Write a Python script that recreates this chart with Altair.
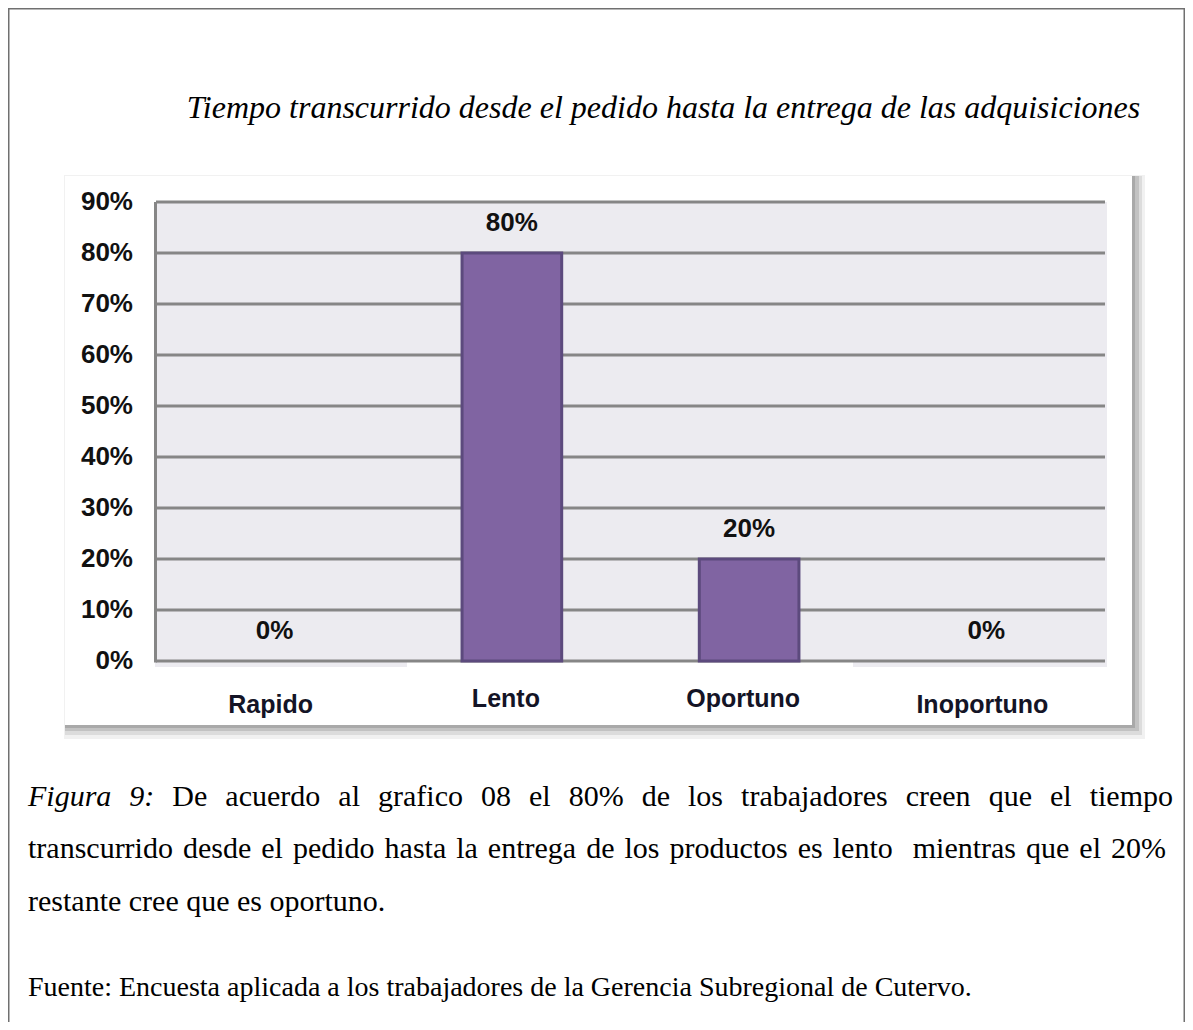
import altair as alt
import pandas as pd

# ---------------- data ----------------
categories = ["Rapido", "Lento", "Oportuno", "Inoportuno"]
values = [0.0, 0.80, 0.20, 0.0]
y_ticks = [0.0, 0.1, 0.2, 0.3, 0.4, 0.5, 0.6, 0.7, 0.8, 0.9]
title_text = "Tiempo transcurrido desde el pedido hasta la entrega de las adquisiciones"
caption_lead = ["Figura", "9:"]
caption_lines = [
    "De acuerdo al grafico 08 el 80% de los trabajadores creen que el tiempo",
    "transcurrido desde el pedido hasta la entrega de los productos es lento  mientras que el 20%",
    "restante cree que es oportuno.",
]
source_text = "Fuente: Encuesta aplicada a los trabajadores de la Gerencia Subregional de Cutervo."

# ---------------- layout ----------------
CW, CH = 1177, 1014        # whole canvas (fits the 1193x1030 window with 8px margins)
OX, OY = 156, 202          # page position of plot origin
W, H = 949, 459            # plot area
PAD = {"left": OX - 8, "top": OY - 8, "right": CW - (OX - 8) - W, "bottom": CH - (OY - 8) - H}


def rx(px):
    return px - OX


def ry(py):
    return py - OY


SERIF = "Liberation Serif"
SANS = "Liberation Sans"
CAP_FS = 30

REG = {" ": .25, "a": .444, "b": .5, "c": .444, "d": .5, "e": .444, "f": .333, "g": .5, "h": .5,
       "i": .278, "j": .278, "k": .5, "l": .278, "m": .778, "n": .5, "o": .5, "p": .5, "q": .5,
       "r": .333, "s": .389, "t": .278, "u": .5, "v": .5, "w": .722, "x": .5, "y": .5, "z": .444,
       "%": .833, ":": .278, ".": .25, ",": .25, "D": .722, "F": .556, "E": .611, "G": .722,
       "S": .556, "C": .667}
ITA = {" ": .25, "F": .611, "i": .278, "g": .5, "u": .5, "r": .389, "a": .5, ":": .333}


def tw(word, italic):
    table = ITA if italic else REG
    return sum(table.get(ch, .5) for ch in word) * CAP_FS


def justify(tokens, left, right, base):
    total = sum(tw(t, it) for t, it in tokens)
    gap = (right - left - total) / (len(tokens) - 1)
    out, x = [], left
    for t, it in tokens:
        if t:
            out.append({"word": t, "x": rx(x), "y": ry(base), "italic": it})
        x += tw(t, it) + gap
    return out


line1 = [(w, True) for w in caption_lead] + [(w, False) for w in caption_lines[0].split(" ")]
line2 = [(w, False) for w in caption_lines[1].split(" ")]
words = justify(line1, 28, 1173, 806) + justify(line2, 28, 1166, 858)
words_df = pd.DataFrame(words)
ital_df = words_df[words_df["italic"]]
norm_df = words_df[~words_df["italic"]]

df = pd.DataFrame({
    "cat": categories,
    "value": values,
    "label": [f"{round(v * 100)}%" for v in values],
})
grid_df = pd.DataFrame({"t": y_ticks})
one = pd.DataFrame({"k": [0]})

x_enc = alt.X("cat:N", sort=categories,
              scale=alt.Scale(paddingInner=0.58, paddingOuter=0.29), axis=None)
y_scale = alt.Scale(domain=[0, 0.9], nice=False, zero=True)


def box(x1, y1, x2, y2, **kw):
    return alt.Chart(one).mark_rect(**kw).encode(
        x=alt.value(rx(x1)), x2=alt.value(rx(x2)),
        y=alt.value(ry(y1)), y2=alt.value(ry(y2)))


shadow1 = box(64, 175, 1145, 739, fill="#f1f1f1")
shadow2 = box(65, 176, 1142, 735, fill="#dcdcdc")
shadow3 = box(65, 176, 1139, 731, fill="#c2c2c2")
shadow4 = box(65, 176, 1135, 728, fill="#a9a9a9")
white = box(65, 176, 1132, 725, fill="#ffffff")
plotbg = box(156, 202, 1107, 661, fill="#ECEBF0")
strip1 = box(155, 661, 407, 667, fill="#ECEBF0")
strip2 = box(853, 661, 1107, 667, fill="#ECEBF0")

grid = alt.Chart(grid_df).mark_rule(color="#868686", strokeWidth=3).encode(
    y=alt.Y("t:Q", scale=y_scale, axis=None),
    x=alt.value(0), x2=alt.value(W),
)

ylabels = alt.Chart(grid_df).transform_calculate(
    lab="format(datum.t, '.0%')"
).mark_text(font=SANS, fontWeight="bold", fontSize=26, align="right", baseline="middle",
            color="#111111").encode(
    y=alt.Y("t:Q", scale=y_scale, axis=None), x=alt.value(-23), text="lab:N")

left_line = alt.Chart(one).mark_rule(color="#868686", strokeWidth=3).encode(
    x=alt.value(-0.5), y=alt.value(0), y2=alt.value(H + 1.5))

bars = alt.Chart(df).transform_filter("datum.value > 0").mark_bar(
    color="#8064A2", stroke="#5C4A7D", strokeWidth=3).encode(
    x=x_enc, y=alt.Y("value:Q", scale=y_scale, axis=None))

vlabels = alt.Chart(df).mark_text(
    font=SANS, fontWeight="bold", fontSize=26, baseline="alphabetic", dy=-22, color="#111111"
).encode(x=x_enc, y=alt.Y("value:Q", scale=y_scale, axis=None), text="label:N")

xl_hi = alt.Chart(df).transform_filter(
    "datum.cat == 'Lento' || datum.cat == 'Oportuno'").mark_text(
    font=SANS, fontWeight="bold", fontSize=25, baseline="alphabetic", dx=-6, color="#141426"
).encode(x=x_enc, y=alt.value(ry(707)), text="cat:N")

xl_lo = alt.Chart(df).transform_filter(
    "datum.cat == 'Rapido' || datum.cat == 'Inoportuno'").mark_text(
    font=SANS, fontWeight="bold", fontSize=25, baseline="alphabetic", dx=-4, color="#141426"
).encode(x=x_enc, y=alt.value(ry(713)), text="cat:N")

title = alt.Chart(one).mark_text(
    font=SERIF, fontStyle="italic", fontSize=32, align="center", baseline="alphabetic",
    color="#000000").encode(x=alt.value(rx(663.5)), y=alt.value(ry(118)),
                            text=alt.value(title_text))

cap_it = alt.Chart(ital_df).mark_text(
    font=SERIF, fontStyle="italic", fontSize=CAP_FS, align="left", baseline="alphabetic",
    color="#000000").encode(x=alt.X("x:Q", scale=None, axis=None),
                            y=alt.Y("y:Q", scale=None, axis=None), text="word:N")

cap_norm = alt.Chart(norm_df).mark_text(
    font=SERIF, fontSize=CAP_FS, align="left", baseline="alphabetic",
    color="#000000").encode(x=alt.X("x:Q", scale=None, axis=None),
                            y=alt.Y("y:Q", scale=None, axis=None), text="word:N")

line3 = alt.Chart(one).mark_text(
    font=SERIF, fontSize=CAP_FS, align="left", baseline="alphabetic", color="#000000"
).encode(x=alt.value(rx(28)), y=alt.value(ry(911)), text=alt.value(caption_lines[2]))

source = alt.Chart(one).mark_text(
    font=SERIF, fontSize=28, align="left", baseline="alphabetic", color="#000000"
).encode(x=alt.value(rx(28)), y=alt.value(ry(996)), text=alt.value(source_text))

border = box(8.75, 8.75, 8 + CW - 0.75, 1100, fillOpacity=0, stroke="#707070", strokeWidth=1.5)

chart = alt.layer(
    shadow1, shadow2, shadow3, shadow4, white, strip1, strip2, plotbg, grid, left_line, bars,
    vlabels, ylabels, xl_hi, xl_lo, title, cap_it, cap_norm, line3, source, border
).properties(
    width=W, height=H,
    autosize=alt.AutoSizeParams(type="none"),
    padding=PAD,
    background="#ffffff",
).configure_view(strokeWidth=0)

chart.save("out.html", embed_options={"renderer": "svg", "actions": False})
